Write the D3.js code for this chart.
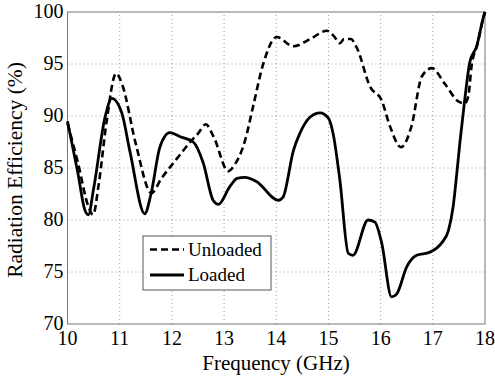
<!DOCTYPE html>
<html>
<head>
<meta charset="utf-8">
<script src="https://cdn.jsdelivr.net/npm/d3@7"></script>
<style>
  body { margin: 0; background: white; }
  svg text { font-family: "Liberation Serif", "DejaVu Serif", "Times New Roman", Times, serif; }
</style>
</head>
<body>
<script>
var width = 495, height = 376;
var margin = {top: 12, right: 10, bottom: 52, left: 67.5};

var xTicks = [10, 11, 12, 13, 14, 15, 16, 17, 18];
var yTicks = [70, 75, 80, 85, 90, 95, 100];

// unloaded (dashed)
var unloadedFreq = [10, 10.2, 10.4, 10.49, 10.6, 10.75, 10.93, 11.05, 11.3, 11.61, 11.8, 12.0, 12.16, 12.35, 12.5, 12.65, 12.8, 13.08, 13.2, 13.4, 13.56, 13.75, 14.01, 14.33, 14.65, 14.97, 15.1, 15.22, 15.3, 15.43, 15.54, 15.8, 16.02, 16.18, 16.39, 16.59, 16.79, 16.98, 17.23, 17.49, 17.61, 17.68, 17.74, 17.86, 17.97, 18];
var unloadedEff = [89.3, 85.5, 81.3, 80.5, 83.5, 89.5, 94.1, 93.0, 87.5, 82.6, 84.0, 85.3, 86.3, 87.5, 88.3, 89.2, 88.0, 84.7, 85.3, 87.6, 91.0, 95.0, 97.6, 96.7, 97.4, 98.2, 97.7, 97.0, 97.4, 97.4, 96.6, 92.8, 91.5, 89.0, 87.0, 89.0, 93.8, 94.6, 93.1, 91.4, 91.2, 91.9, 94.7, 97.0, 99.5, 100];

// loaded (solid)
var loadedFreq = [10, 10.2, 10.33, 10.4, 10.5, 10.72, 10.85, 11.04, 11.2, 11.48, 11.6, 11.77, 11.96, 12.16, 12.41, 12.6, 12.79, 12.89, 13.11, 13.25, 13.4, 13.62, 14.04, 14.13, 14.33, 14.45, 14.65, 14.84, 15.0, 15.09, 15.22, 15.38, 15.47, 15.76, 15.89, 16.02, 16.21, 16.31, 16.5, 16.69, 16.94, 17.17, 17.3, 17.39, 17.46, 17.52, 17.61, 17.71, 17.84, 17.97, 18];
var loadedEff = [89.5, 84.5, 81.0, 80.5, 83.0, 89.9, 91.7, 90.3, 86.5, 80.6, 82.5, 87.0, 88.4, 88.0, 87.5, 85.5, 81.9, 81.5, 83.2, 84.0, 84.1, 83.7, 81.9, 82.2, 86.7, 88.3, 89.9, 90.3, 89.8, 88.3, 83.8, 76.8, 76.6, 80.0, 79.8, 77.8, 72.6, 72.9, 75.5, 76.6, 76.9, 77.8, 79.0, 81.3, 84.5, 87.5, 91.5, 95.2, 96.7, 99.5, 100];

var seriesNames = ["Unloaded", "Loaded"];

var x = d3.scaleLinear().domain([10, 18]).range([margin.left, width - margin.right]);
var y = d3.scaleLinear().domain([70, 100]).range([height - margin.bottom, margin.top]);

var svg = d3.select("body").append("svg")
  .attr("width", width)
  .attr("height", height);

// grid
svg.append("g").selectAll("line")
  .data(xTicks.slice(1, -1))
  .enter().append("line")
  .attr("x1", d => x(d)).attr("x2", d => x(d))
  .attr("y1", y(70)).attr("y2", y(100))
  .attr("stroke", "#999").attr("stroke-width", 1).attr("stroke-dasharray", "1,3");
svg.append("g").selectAll("line")
  .data(yTicks.slice(1, -1))
  .enter().append("line")
  .attr("y1", d => y(d)).attr("y2", d => y(d))
  .attr("x1", x(10)).attr("x2", x(18))
  .attr("stroke", "#999").attr("stroke-width", 1).attr("stroke-dasharray", "1,3");

// frame
svg.append("rect")
  .attr("x", x(10)).attr("y", y(100))
  .attr("width", x(18) - x(10)).attr("height", y(70) - y(100))
  .attr("fill", "none").attr("stroke", "#777").attr("stroke-width", 1);

// tick labels
svg.append("g").selectAll("text")
  .data(xTicks)
  .enter().append("text")
  .attr("x", d => x(d)).attr("y", height - margin.bottom + 21)
  .attr("text-anchor", "middle")
  .attr("font-size", 20)
  .text(d => d);
svg.append("g").selectAll("text")
  .data(yTicks)
  .enter().append("text")
  .attr("x", margin.left - 4).attr("y", d => y(d) + 6)
  .attr("text-anchor", "end")
  .attr("font-size", 20)
  .text(d => d);

// axis titles
svg.append("text")
  .attr("x", 276).attr("y", 370)
  .attr("text-anchor", "middle").attr("font-size", 21)
  .text("Frequency (GHz)");
svg.append("text")
  .attr("transform", "translate(22," + (y(85) + 2) + ") rotate(-90)")
  .attr("text-anchor", "middle").attr("font-size", 21.5)
  .text("Radiation Efficiency (%)");

var line = d3.line()
  .x(d => x(d[0]))
  .y(d => y(d[1]))
  .curve(d3.curveMonotoneX);

svg.append("path")
  .datum(d3.zip(unloadedFreq, unloadedEff))
  .attr("d", line)
  .attr("fill", "none").attr("stroke", "black")
  .attr("stroke-width", 2.6).attr("stroke-dasharray", "7,4");

svg.append("path")
  .datum(d3.zip(loadedFreq, loadedEff))
  .attr("d", line)
  .attr("fill", "none").attr("stroke", "black")
  .attr("stroke-width", 2.8);

// legend
var lg = svg.append("g");
lg.append("rect")
  .attr("x", 143).attr("y", 236).attr("width", 128).attr("height", 54)
  .attr("fill", "white").attr("stroke", "#555").attr("stroke-width", 1);
var rows = lg.selectAll("g")
  .data(seriesNames)
  .enter().append("g")
  .attr("transform", (d, i) => "translate(0," + (249.5 + i * 25.5) + ")");
rows.append("line")
  .attr("x1", 150).attr("x2", 184)
  .attr("stroke", "black")
  .attr("stroke-width", (d, i) => i === 0 ? 2.6 : 2.8)
  .attr("stroke-dasharray", (d, i) => i === 0 ? "7,4" : null);
rows.append("text")
  .attr("x", 188).attr("y", 6)
  .attr("font-size", 19)
  .text(d => d);
</script>
</body>
</html>
